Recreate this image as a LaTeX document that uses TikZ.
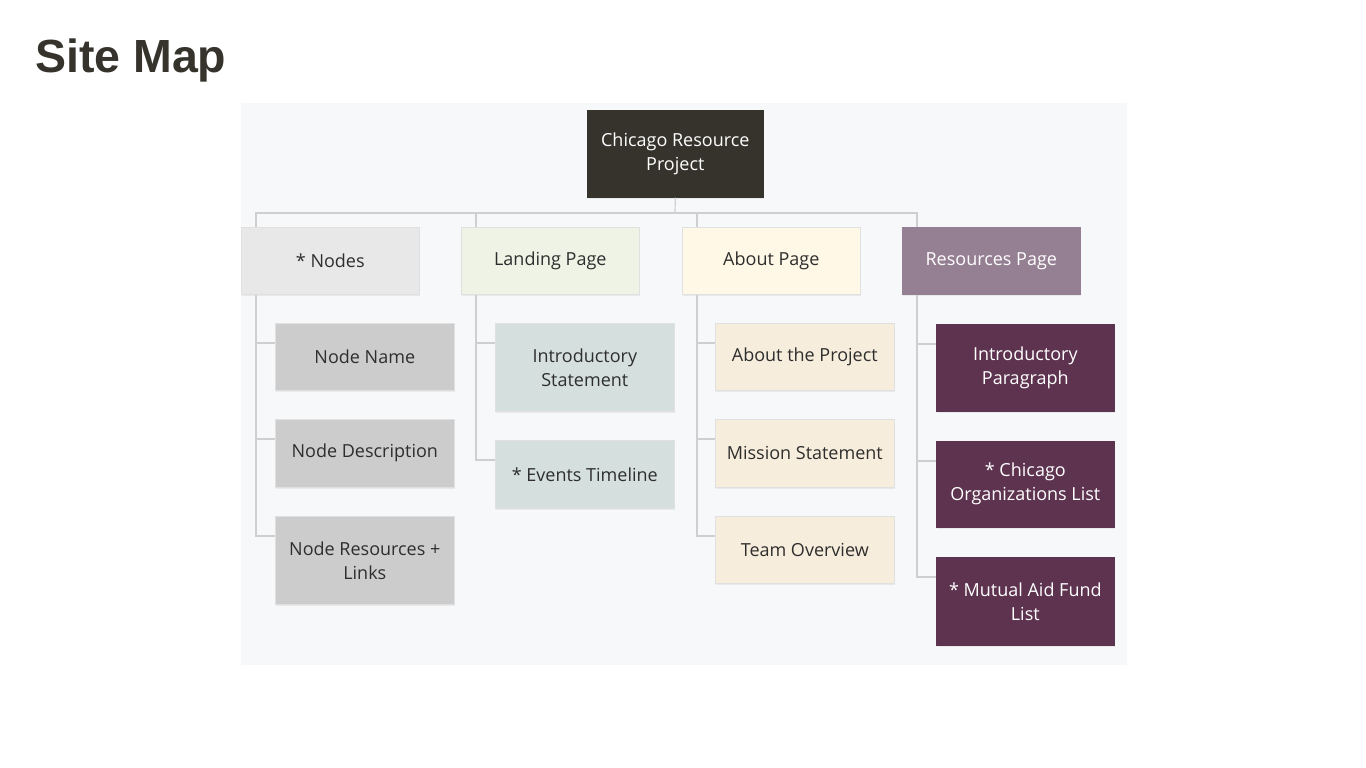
\documentclass[tikz,border=0pt]{standalone}
\usepackage{fontspec}
\setmainfont{Open Sans}
\newfontfamily\titlefont{Liberation Sans}
\usetikzlibrary{shadows}

\definecolor{inkdark}{HTML}{35332C}
\definecolor{panelbg}{HTML}{F7F8FA}
\definecolor{wirecol}{HTML}{CFCFCF}
\definecolor{txtdark}{HTML}{2E2E2E}
\definecolor{fillgrey}{HTML}{E8E8E8}
\definecolor{fillgreyb}{HTML}{CCCCCC}
\definecolor{fillgreen}{HTML}{EEF3E5}
\definecolor{fillsage}{HTML}{D5E0DE}
\definecolor{fillcream}{HTML}{FFF8E6}
\definecolor{fillbeige}{HTML}{F7EDDC}
\definecolor{fillmauve}{HTML}{957F92}
\definecolor{fillplum}{HTML}{5E334F}

\tikzset{
  x=1pt, y=-1pt,
  box/.style={rectangle, anchor=north west, inner sep=0pt, align=center,
    font=\fontsize{18}{24}\selectfont, text=txtdark,
    draw=black!12, line width=0.6pt,
    drop shadow={opacity=0.12, shadow xshift=1pt, shadow yshift=-2pt}},
  wire/.style={draw=wirecol, line width=1.2pt},
}

\begin{document}
\begin{tikzpicture}
  \useasboundingbox[fill=white] (0,0) rectangle (1366,768);

  % heading
  \node[anchor=base west, inner sep=0pt, text=inkdark,
        font=\titlefont\bfseries\fontsize{46.5}{50}\selectfont] (title) at (35,73) {Site Map};

  % panel
  \fill[panelbg] (241,103) rectangle (1127,665);

  % root
  \node[box, fill=inkdark, text=white, draw=inkdark, minimum width=176pt, minimum height=87pt]
    (root) at (587,110) {Chicago Resource\\ Project};

  % first level
  \node[box, fill=fillgrey,  minimum width=178pt, minimum height=67pt] (n1) at (241,227) {* Nodes};
  \node[box, fill=fillgreen, minimum width=178pt, minimum height=67pt] (n2) at (461,227) {Landing Page};
  \node[box, fill=fillcream, minimum width=178pt, minimum height=67pt] (n3) at (682,227) {About Page};
  \node[box, fill=fillmauve, text=white, draw=fillmauve, minimum width=178pt, minimum height=67pt] (n4) at (902,227) {Resources Page};

  % children of * Nodes
  \node[box, fill=fillgreyb, minimum width=179pt, minimum height=67pt] (c11) at (275,323) {Node Name};
  \node[box, fill=fillgreyb, minimum width=179pt, minimum height=68pt] (c12) at (275,419) {Node Description};
  \node[box, fill=fillgreyb, minimum width=179pt, minimum height=88pt] (c13) at (275,516) {Node Resources +\\ Links};

  % children of Landing Page
  \node[box, fill=fillsage, minimum width=179pt, minimum height=88pt] (c21) at (495,323) {Introductory\\ Statement};
  \node[box, fill=fillsage, minimum width=179pt, minimum height=68pt] (c22) at (495,440) {* Events Timeline};

  % children of About Page
  \node[box, fill=fillbeige, minimum width=179pt, minimum height=67pt] (c31) at (715,323) {About the Project};
  \node[box, fill=fillbeige, minimum width=179pt, minimum height=68pt] (c32) at (715,419) {Mission Statement};
  \node[box, fill=fillbeige, minimum width=179pt, minimum height=67pt] (c33) at (715,516) {Team Overview};

  % children of Resources Page
  \node[box, fill=fillplum, text=white, draw=fillplum, minimum width=178pt, minimum height=87pt] (c41) at (936,324) {Introductory\\ Paragraph};
  \node[box, fill=fillplum, text=white, draw=fillplum, minimum width=178pt, minimum height=86pt] (c42) at (936,441) {* Chicago\\ Organizations List};
  \node[box, fill=fillplum, text=white, draw=fillplum, minimum width=178pt, minimum height=88pt] (c43) at (936,557) {* Mutual Aid Fund\\ List};

  % bus from the root to the first level
  \coordinate (bus) at (675,213);
  \draw[wire] (root.south) -- (bus);
  \draw[wire] ([xshift=15pt]n1.north west) |- (bus) -| ([xshift=15pt]n4.north west);
  \draw[wire] ([xshift=15pt]n2.north west) -- ([xshift=15pt]n2.north west |- bus);
  \draw[wire] ([xshift=15pt]n3.north west) -- ([xshift=15pt]n3.north west |- bus);

  % branches to the second level
  \foreach \p/\kids in {n1/{c11,c12,c13}, n2/{c21,c22}, n3/{c31,c32,c33}, n4/{c41,c42,c43}}{
    \foreach \k in \kids {
      \draw[wire] ([xshift=15pt]\p.south west) |- ([yshift=-20pt]\k.north west);
    }
  }
\end{tikzpicture}
\end{document}
